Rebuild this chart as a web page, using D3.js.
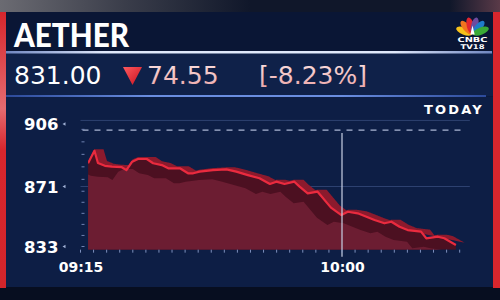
<!DOCTYPE html>
<html><head><meta charset="utf-8">
<script src="https://cdn.jsdelivr.net/npm/d3@7"></script>
<style>
html,body{margin:0;padding:0;background:#0a1430;}
svg{display:block;}
</style></head><body>
<svg id="c" width="500" height="300"></svg>
<script>
// ---- data ----
const ticker = "AETHER";
const lastPrice = "831.00";
const changeAbs = "74.55";
const changePct = "[-8.23%]";
const periodLabel = "TODAY";
const brandTop = "CNBC";
const brandBottom = "TV18";
const minutesFrom915 = [1.3,2.4,3.0,4.2,5.4,7.1,7.9,8.9,9.9,11.4,12.5,14.0,15.1,17.1,18.5,19.4,20.5,22.8,25.1,26.8,28.8,30.8,32.6,33.7,35.1,36.8,37.7,39.1,40.8,43.1,44.9,46.0,47.7,49.2,50.6,52.3,53.5,54.9,56.3,58.6,59.5,61.5,62.6,64.6];
const prices = [884.0,891.0,884.2,882.6,882.1,881.8,880.2,884.9,886.4,886.4,884.0,883.0,881.2,881.2,878.4,878.4,879.3,880.2,880.6,879.3,877.4,875.6,872.4,873.7,872.4,873.7,870.9,866.7,867.7,857.6,852.9,855.0,854.0,851.9,849.8,847.7,848.7,845.5,843.4,842.4,838.2,839.2,838.2,834.0];
const yTickValues = [833, 871, 906];
const xTickLabels = ["09:15", "10:00"];
const dashLevel = 902.6;
const baseValue = 831;
const topValue = 908;
const endMinutes = 67;

// ---- setup ----
const svg = d3.select("#c");
const parse = d3.timeParse("%H:%M");
const t0 = parse(xTickLabels[0]);
const data = minutesFrom915.map((m, i) => ({t: new Date(+t0 + m * 60000), v: prices[i]}));

const x = d3.scaleTime().domain([parse(xTickLabels[0]), parse(xTickLabels[1])]).range([80.5, 342]);
const y = d3.scaleLinear().domain([833, 871, 906]).range([246.5, 186.5, 124]);
const yBase = y(baseValue);
const xEnd = x(new Date(+t0 + endMinutes * 60000));

const defs = svg.append("defs");
function lg(id, x1, y1, x2, y2, stops) {
  const g = defs.append("linearGradient").attr("id", id).attr("x1", x1).attr("y1", y1).attr("x2", x2).attr("y2", y2);
  stops.forEach(s => g.append("stop").attr("offset", s[0]).attr("stop-color", s[1]).attr("stop-opacity", s[2] == null ? 1 : s[2]));
}
lg("topStrip", 0, 0, 1, 0, [[0, "#6b6b72"], [0.25, "#3a3d4a"], [0.5, "#10172a"], [0.9, "#10172a"], [1, "#5a3a48"]]);
lg("hiLine", 0, 0, 1, 0, [[0, "#6f86c0"], [0.2, "#dfe8fb"], [0.8, "#dfe8fb"], [1, "#6f86c0"]]);
lg("loLine", 0, 0, 1, 0, [[0, "#2c4a9a"], [0.3, "#6a8ee0"], [0.7, "#6a8ee0"], [1, "#2c4a9a"]]);
lg("pink", 0, 0, 0, 1, [[0, "#fbe3e3"], [1, "#eaa3a5"]]);
lg("tri", 0, 0, 1, 1, [[0, "#ff5a5f"], [1, "#c8101e"]]);
lg("yAxisG", 0, 0, 0, 1, [[0, "#7f92c0", 0.3], [0.4, "#c9d3ea"], [1, "#e6ecf8"]]);
lg("xAxisG", 0, 0, 1, 0, [[0, "#c9d3ea"], [0.7, "#8ea2d0"], [1, "#3a5290", 0.2]]);
lg("leftBar", 0, 0, 0, 1, [[0, "#d6262c"], [0.35, "#e56b70"], [0.5, "#d8262d"], [1, "#d2252b"]]);

// ---- background panels ----
svg.append("rect").attr("x", 0).attr("y", 0).attr("width", 500).attr("height", 300).attr("fill", "#0c1a3c");
svg.append("rect").attr("x", 0).attr("y", 0).attr("width", 500).attr("height", 12).attr("fill", "url(#topStrip)");
svg.append("rect").attr("x", 0).attr("y", 12).attr("width", 500).attr("height", 40).attr("fill", "#0a1635");
svg.append("rect").attr("x", 0).attr("y", 53).attr("width", 500).attr("height", 43).attr("fill", "#0f2149");
svg.append("rect").attr("x", 6).attr("y", 51).attr("width", 486).attr("height", 2.5).attr("fill", "url(#hiLine)");
svg.append("rect").attr("x", 6).attr("y", 95).attr("width", 480).attr("height", 2).attr("fill", "url(#loLine)");
svg.append("rect").attr("x", 0).attr("y", 97).attr("width", 500).attr("height", 190).attr("fill", "#0d1e45");
svg.append("rect").attr("x", 0).attr("y", 287).attr("width", 500).attr("height", 13).attr("fill", "#070e20");
svg.append("rect").attr("x", 0).attr("y", 12).attr("width", 6).attr("height", 276).attr("fill", "url(#leftBar)");
svg.append("rect").attr("x", 493).attr("y", 12).attr("width", 7).attr("height", 276).attr("fill", "#d8262d");

// ---- header texts ----
svg.append("text").attr("x", 14).attr("y", 46.5).text(ticker)
  .attr("font-family", "Lato").attr("font-weight", 900).attr("font-size", 33)
  .attr("textLength", 115).attr("lengthAdjust", "spacingAndGlyphs").attr("fill", "#ffffff");
svg.append("text").attr("x", 14).attr("y", 84).text(lastPrice)
  .attr("font-family", "DejaVu Sans").attr("font-size", 25).attr("fill", "#ffffff");
svg.append("path").attr("d", "M123,67 L142,67 L132.5,85 Z").attr("fill", "url(#tri)");
svg.append("text").attr("x", 147).attr("y", 84).text(changeAbs)
  .attr("font-family", "DejaVu Sans").attr("font-size", 25).attr("fill", "url(#pink)");
svg.append("text").attr("x", 259).attr("y", 84).text(changePct)
  .attr("font-family", "DejaVu Sans").attr("font-size", 25).attr("fill", "url(#pink)");

// ---- brand logo ----
const logo = svg.append("g").attr("transform", "translate(472.5,34.5)");
const featherColors = ["#f7c21b", "#f1741f", "#e2262f", "#6d4b9f", "#1f7cc9", "#3aaa36"];
const angles = [-68, -41, -14, 14, 41, 68];
featherColors.forEach((c, i) => {
  logo.append("ellipse").attr("cx", 0).attr("cy", -9).attr("rx", 3.6).attr("ry", 8.5)
    .attr("fill", c).attr("transform", `rotate(${angles[i]})`);
});
logo.append("path").attr("d", "M-2.2,0 L0,-9 L2.2,0 Z").attr("fill", "#ffffff");
svg.append("text").attr("x", 472.5).attr("y", 42.3).attr("text-anchor", "middle").text(brandTop)
  .attr("font-family", "DejaVu Sans").attr("font-weight", "bold").attr("font-size", 6.8).attr("fill", "#fff")
  .attr("textLength", 30).attr("lengthAdjust", "spacingAndGlyphs");
svg.append("text").attr("x", 472.5).attr("y", 49.2).attr("text-anchor", "middle").text(brandBottom)
  .attr("font-family", "DejaVu Sans").attr("font-weight", "bold").attr("font-size", 6.5).attr("fill", "#fff")
  .attr("textLength", 24).attr("lengthAdjust", "spacingAndGlyphs");

// ---- period label ----
svg.append("text").attr("x", 484).attr("y", 114).attr("text-anchor", "end").text(periodLabel)
  .attr("font-family", "DejaVu Sans").attr("font-weight", "bold").attr("font-size", 13)
  .attr("letter-spacing", 2.2).attr("fill", "#ffffff");

// ---- gridlines ----
const g = svg.append("g");
g.selectAll("line.grid").data([topValue, 871]).enter().append("line")
  .attr("x1", x.range()[0]).attr("x2", xEnd).attr("y1", d => y(d)).attr("y2", d => y(d))
  .attr("stroke", "#2d4170").attr("stroke-width", 1);
g.append("line").attr("x1", x.range()[0] + 2).attr("x2", xEnd - 6)
  .attr("y1", y(dashLevel)).attr("y2", y(dashLevel))
  .attr("stroke", "#aab6d4").attr("stroke-width", 1.3).attr("stroke-dasharray", "6,6");

// ---- area layers ----
const px = data.map(d => x(d.t)), py = data.map(d => y(d.v));
const x0 = px[0], x1 = px[px.length - 1];
function lineYAt(p) {
  if (p <= x0) return py[0];
  if (p >= x1) return py[py.length - 1];
  const i = d3.bisectRight(px, p) - 1;
  const f = (p - px[i]) / (px[i + 1] - px[i]);
  return py[i] + f * (py[i + 1] - py[i]);
}
defs.append("clipPath").attr("id", "plotClip").append("rect")
  .attr("x", x0).attr("y", 100).attr("width", xEnd - x0).attr("height", yBase - 100);
const plot = svg.append("g").attr("clip-path", "url(#plotClip)");

// back (top surface) of the ribbon: the line extruded 9px to the right
const backDX = 9, backDY = 2;
const backPts = d3.range(x0, x1 + backDX + 0.5, 0.5).map(p => {
  let m = Infinity;
  for (let s = 0; s <= backDX; s += 0.5) {
    const q = p - s;
    if (q >= x0 && q <= x1) m = Math.min(m, lineYAt(q));
  }
  return [p, m - backDY];
});
plot.append("path").datum(backPts)
  .attr("d", d3.area().x(d => d[0]).y0(yBase).y1(d => d[1])).attr("fill", "#8c1a2d");
// shadow under the line
plot.append("path").datum(data)
  .attr("d", d3.area().x(d => x(d.t)).y0(yBase).y1(d => y(d.v))).attr("fill", "#4c1021");
// front face: line shifted left and down
const faceDX = 14, faceDY = 10;
plot.append("path").datum(data)
  .attr("d", d3.area().x(d => x(d.t) - faceDX).y0(yBase).y1(d => Math.min(yBase, y(d.v) + faceDY)))
  .attr("fill", "#6c1d32");
// front edge line
plot.append("path").datum(data).attr("d", d3.line().x(d => x(d.t)).y(d => y(d.v))).attr("fill", "none")
  .attr("stroke", "#ea2b3f").attr("stroke-width", 2.2).attr("stroke-linejoin", "round");

// ---- 10:00 marker ----
svg.append("line").attr("x1", x(parse(xTickLabels[1]))).attr("x2", x(parse(xTickLabels[1])))
  .attr("y1", y(dashLevel) + 3).attr("y2", yBase + 7)
  .attr("stroke", "#c9d1e4").attr("stroke-width", 1.2);

// ---- axes ----
const yAxisX = x.range()[0];
svg.append("line").attr("x1", yAxisX).attr("x2", yAxisX).attr("y1", y(topValue) - 3).attr("y2", yBase + 8)
  .attr("stroke", "url(#yAxisG)").attr("stroke-width", 2);
const minorY = d3.range(833, 906, 7);
svg.selectAll("line.ymin").data(minorY).enter().append("line")
  .attr("x1", yAxisX + 1).attr("x2", yAxisX + 4).attr("y1", d => y(d)).attr("y2", d => y(d))
  .attr("stroke", "#6f82b2").attr("stroke-width", 1);

const yAxis = d3.axisLeft(y).tickValues(yTickValues).tickSize(0).tickPadding(22).tickFormat(d3.format("d"));
const ya = svg.append("g").attr("transform", `translate(${yAxisX},0)`).call(yAxis);
ya.select(".domain").remove();
ya.selectAll("text").attr("font-family", "DejaVu Sans").attr("font-weight", "bold")
  .attr("font-size", 16.5).attr("fill", "#ffffff").attr("dy", "0.35em");
svg.selectAll("path.ymark").data(yTickValues).enter().append("path")
  .attr("d", d => `M${yAxisX - 18},${y(d)} l3,-1.8 l0,3.6 Z`).attr("fill", "#9fb0d4");

const xAxisY = yBase + 3;
svg.append("line").attr("x1", yAxisX).attr("x2", xEnd + 12).attr("y1", xAxisY).attr("y2", xAxisY)
  .attr("stroke", "url(#xAxisG)").attr("stroke-width", 1.5);
const minorX = d3.range(0, endMinutes, 2.25).map(m => new Date(+t0 + m * 60000));
svg.selectAll("line.xmin").data(minorX).enter().append("line")
  .attr("x1", d => x(d)).attr("x2", d => x(d)).attr("y1", xAxisY - 3).attr("y2", xAxisY)
  .attr("stroke", "#7d90bd").attr("stroke-width", 1);

const xAxis = d3.axisBottom(x).tickValues(xTickLabels.map(parse)).tickSize(0).tickPadding(9)
  .tickFormat(d3.timeFormat("%H:%M"));
const xa = svg.append("g").attr("transform", `translate(0,${xAxisY})`).call(xAxis);
xa.select(".domain").remove();
xa.selectAll("text").attr("font-family", "DejaVu Sans").attr("font-weight", "bold")
  .attr("font-size", 14).attr("fill", "#ffffff");
</script>
</body></html>
